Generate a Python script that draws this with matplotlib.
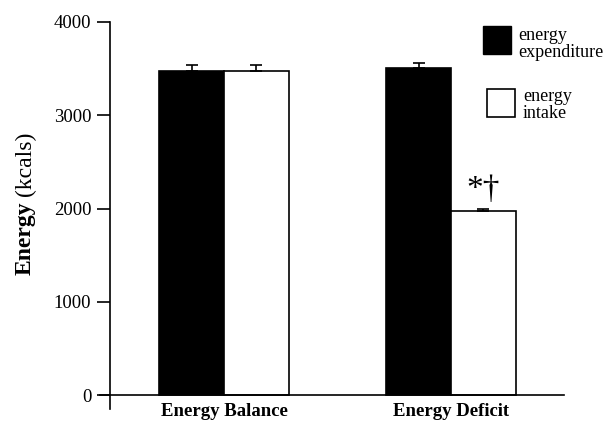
import matplotlib
matplotlib.use("Agg")
import matplotlib.pyplot as plt
import numpy as np

categories = ["Energy Balance", "Energy Deficit"]
expenditure = [3470, 3505]
expenditure_err = [65, 50]
intake = [3470, 1970]
intake_err = [65, 30]
yticks = [0, 1000, 2000, 3000, 4000]

plt.rcParams['font.family'] = ['Liberation Serif', 'DejaVu Serif']

fig = plt.figure(figsize=(6.07, 4.21), dpi=100)
ax = fig.add_axes([100/607, 1-409/421, 464/607, 387/421])

x = np.arange(len(categories))
w = 0.285
ekw = dict(ecolor='black', elinewidth=1.2, capsize=4.5, capthick=1.2)
ax.bar(x - w/2, expenditure, w, color='black', edgecolor='black', linewidth=1.2,
       yerr=[np.zeros(2), expenditure_err], error_kw=ekw)
ax.bar(x + w/2, intake, w, color='white', edgecolor='black', linewidth=1.2,
       yerr=[np.zeros(2), intake_err], error_kw=ekw)

ax.set_xlim(-0.546, 1.498)
ax.set_ylim(-150, 4000)
for s in ['top', 'right']:
    ax.spines[s].set_visible(False)
ax.spines['left'].set_position(('data', -0.502))
ax.spines['bottom'].set_position(('data', 0))
ax.spines['left'].set_linewidth(1.2)
ax.spines['bottom'].set_linewidth(1.2)
ax.spines['left'].set_clip_on(False)

ax.set_yticks(yticks)
ax.set_yticklabels([str(v) for v in yticks], fontsize=13.5)
ax.tick_params(axis='y', length=9.5, width=1.2, pad=4)
ax.set_xticks(x)
ax.set_xticklabels(categories, fontsize=13.5, fontweight='bold')
ax.tick_params(axis='x', length=0, pad=6)

fig.text(25/607, 1-238/421, "Energy", rotation=90, fontsize=17, fontweight='bold',
         ha='center', va='center')
fig.text(25/607, 1-164/421, "(kcals)", rotation=90, fontsize=17,
         ha='center', va='center')

ax.text(x[1] + w/2, intake[1] + intake_err[1] + 40, "*\u2020", fontsize=24,
        ha='center', va='bottom')

# legend
fig.patches.append(plt.Rectangle((483/607, 1-54/421), 28/607, 28/421, transform=fig.transFigure,
                                 facecolor='black', edgecolor='black'))
fig.text(518/607, 1-44/421, "energy\nexpenditure", fontsize=13, ha='left', va='center', linespacing=0.95)
fig.patches.append(plt.Rectangle((487/607, 1-117/421), 28/607, 28/421, transform=fig.transFigure,
                                 facecolor='white', edgecolor='black', linewidth=1.2))
fig.text(523/607, 1-105/421, "energy\nintake", fontsize=13, ha='left', va='center', linespacing=0.95)

fig.savefig("out.png", dpi=100)
